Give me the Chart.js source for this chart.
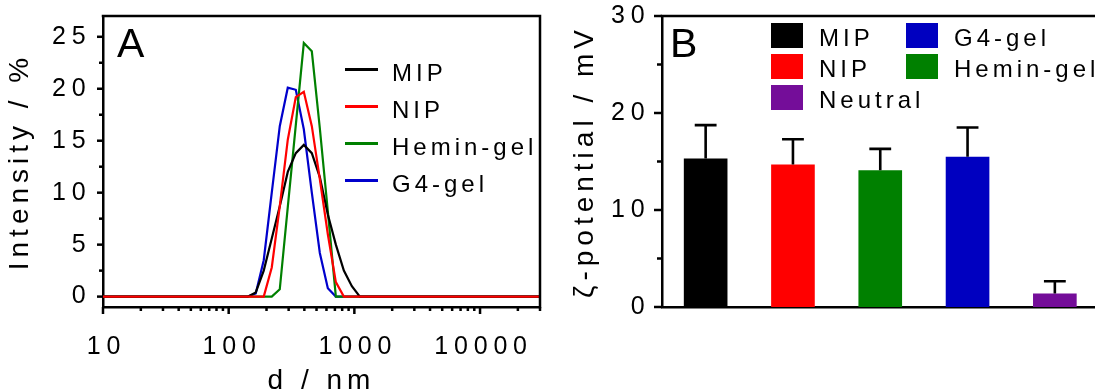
<!DOCTYPE html>
<html>
<head>
<meta charset="utf-8">
<script src="https://cdn.jsdelivr.net/npm/chart.js@4.4.1/dist/chart.umd.min.js"></script>
<style>
    html, body { margin: 0; padding: 0; background: #fff; }
    body { width: 1095px; height: 389px; overflow: hidden; position: relative; font-family: 'Liberation Sans', Arial, sans-serif; color: #000; }
    .box { position: absolute; top: 0; height: 410px; }
    #boxA { left: 0; width: 548px; }
    #boxB { left: 550px; width: 550px; }
    .panel-label { position: absolute; font-size: 41px; line-height: 41px; }
    .legend-text { position: absolute; font-size: 24px; line-height: 24px; letter-spacing: 4px; white-space: nowrap; }
    .swatch-line { position: absolute; width: 33px; height: 3px; }
    .swatch-box { position: absolute; width: 32px; height: 25px; }
</style>
</head>
<body>
<div class="box" id="boxA"><canvas id="dls-chart"></canvas></div>
<div class="box" id="boxB"><canvas id="zeta-chart"></canvas></div>
<div class="panel-label" style="left:117px; top:23px;">A</div>
<div class="panel-label" style="left:670px; top:23px;">B</div>
<div id="legend-a"></div>
<div id="legend-b"></div>
<script>
// A：粒徑分布 (DLS)
const sizeNm = [10, 141.8, 164.2, 190.1, 220.2, 255.0, 295.3, 342.0, 396.1, 458.7, 531.2, 615.1, 712.4, 825.0, 955.4, 1106, 1281, 30000];
const mipIntensity = [0, 0, 0.4, 2.5, 5.6, 8.7, 12.0, 13.8, 14.6, 13.8, 11.5, 7.9, 5.0, 2.5, 1.0, 0, 0, 0];
const nipIntensity = [0, 0, 0, 0, 2.8, 8.7, 15.1, 19.2, 19.7, 16.4, 11.3, 6.0, 1.4, 0, 0, 0, 0, 0];
const heminIntensity = [0, 0, 0, 0, 0, 0.7, 8.6, 16.5, 24.4, 23.6, 16.2, 8.2, 0, 0, 0, 0, 0, 0];
const g4Intensity = [0, 0, 0.3, 3.5, 10.0, 16.4, 20.1, 19.9, 16.1, 10.0, 4.2, 0.8, 0, 0, 0, 0, 0, 0];
const dlsLabels = ['MIP', 'NIP', 'Hemin-gel', 'G4-gel'];
const dlsColors = ['#000000', '#ff0000', '#008000', '#0000cc'];
const dlsOrder = [1, 0, 1, 1]; // NIP 畫在最上層

const sizeMajorTicks = [10, 100, 1000, 10000];
const sizeMinorTicks = [20, 30, 40, 50, 60, 70, 80, 90, 200, 300, 400, 500, 600, 700, 800, 900,
    2000, 3000, 4000, 5000, 6000, 7000, 8000, 9000, 20000, 30000];
const intensityMajorTicks = [0, 5, 10, 15, 20, 25];
const intensityMinorTicks = [2.5, 7.5, 12.5, 17.5, 22.5];

// B：ζ 電位
const zetaLabels = ['MIP', 'NIP', 'Hemin-gel', 'G4-gel', 'Neutral'];
const zetaMean = [15.3, 14.7, 14.1, 15.5, 1.4];
const zetaSd = [3.45, 2.6, 2.2, 3.0, 1.25];
const zetaColors = ['#000000', '#ff0000', '#008000', '#0000c0', '#740d99'];
const zetaLegendOrder = ['MIP', 'NIP', 'Neutral', 'G4-gel', 'Hemin-gel'];
const zetaMajorTicks = [0, 10, 20, 30];
const zetaMinorTicks = [5, 15, 25];

Chart.defaults.font.family = "'Liberation Sans', Arial, sans-serif";
Chart.defaults.color = '#000';

// 合併主/次刻度
function buildTicks(major, minor) {
    return major.concat(minor)
        .sort((a, b) => a - b)
        .map(v => ({ value: v, major: major.includes(v) }));
}

// 固定軸寬/高，並取消標籤造成的額外內距
function fixSize(key, size) {
    return s => {
        s[key] = size;
        s.paddingTop = 0;
        s.paddingBottom = 0;
        s.paddingLeft = 0;
        s.paddingRight = 0;
    };
}

// 字距：標題先畫（資料之前），刻度標籤 z=1 在資料之後畫
const textSpacing = {
    id: 'textSpacing',
    beforeDraw(chart) {
        chart.ctx.letterSpacing = '5px';
    },
    afterDatasetsDraw(chart) {
        chart.ctx.letterSpacing = '5.8px';
    }
};

// 外側刻度線，主刻度較長
const tickMarks = {
    id: 'tickMarks',
    afterDraw(chart, args, opts) {
        const ctx = chart.ctx;
        ctx.save();
        ctx.strokeStyle = '#000';
        ctx.lineWidth = 2.5;
        ['x', 'y'].forEach(id => {
            const scale = chart.scales[id];
            const majorLen = opts[id + 'Major'];
            const minorLen = opts[id + 'Minor'];
            if (!majorLen) return;
            scale.ticks.forEach(t => {
                const p = scale.getPixelForValue(t.value);
                const len = t.major ? majorLen : minorLen;
                ctx.beginPath();
                if (scale.isHorizontal()) {
                    ctx.moveTo(p, scale.top);
                    ctx.lineTo(p, scale.top + len);
                } else {
                    ctx.moveTo(scale.right, p);
                    ctx.lineTo(scale.right - len, p);
                }
                ctx.stroke();
            });
        });
        ctx.restore();
    }
};

// 上框線（A 另有右框線）
const frame = {
    id: 'frame',
    afterDraw(chart, args, opts) {
        const { ctx, chartArea: a } = chart;
        ctx.save();
        ctx.strokeStyle = '#000';
        ctx.lineWidth = 2.5;
        ctx.lineCap = 'square';
        ctx.beginPath();
        ctx.moveTo(a.left, a.top);
        ctx.lineTo(a.right, a.top);
        if (opts.right) ctx.lineTo(a.right, a.bottom);
        ctx.stroke();
        ctx.restore();
    }
};

// 誤差線（只畫上半）
const errorBars = {
    id: 'errorBars',
    afterDatasetsDraw(chart) {
        const ctx = chart.ctx;
        const yScale = chart.scales.y;
        const meta = chart.getDatasetMeta(0);
        ctx.save();
        ctx.strokeStyle = '#000';
        ctx.lineWidth = 2.6;
        meta.data.forEach((bar, i) => {
            const top = yScale.getPixelForValue(zetaMean[i] + zetaSd[i]);
            const half = bar.width / 4;
            ctx.beginPath();
            ctx.moveTo(bar.x, bar.y);
            ctx.lineTo(bar.x, top);
            ctx.moveTo(bar.x - half, top);
            ctx.lineTo(bar.x + half, top);
            ctx.stroke();
        });
        ctx.restore();
    }
};

const axisBorder = { display: true, color: '#000', width: 2.5 };
const noGrid = { display: false, drawTicks: false };
const titleFont = { size: 28 };
const tickFont = { size: 25 };

// 圖 A
new Chart(document.getElementById('dls-chart'), {
    type: 'line',
    data: {
        datasets: [mipIntensity, nipIntensity, heminIntensity, g4Intensity].map((values, i) => ({
            label: dlsLabels[i],
            data: sizeNm.map((d, j) => ({ x: d, y: values[j] })),
            borderColor: dlsColors[i],
            borderWidth: 2.2,
            pointRadius: 0,
            tension: 0,
            fill: false,
            order: dlsOrder[i]
        }))
    },
    options: {
        responsive: true,
        maintainAspectRatio: false,
        animation: false,
        layout: { padding: { left: 0, top: 16, right: 8, bottom: 0 } },
        plugins: {
            legend: { display: false },
            tooltip: { enabled: false },
            frame: { right: true },
            tickMarks: { xMajor: 7, xMinor: 4, yMajor: 6, yMinor: 4 }
        },
        scales: {
            x: {
                type: 'logarithmic',
                min: 10,
                max: 30000,
                afterBuildTicks: s => { s.ticks = buildTicks(sizeMajorTicks, sizeMinorTicks); },
                afterFit: fixSize('height', 103),
                grid: noGrid,
                border: axisBorder,
                ticks: {
                    z: 1,
                    autoSkip: false,
                    maxRotation: 0,
                    padding: 25,
                    labelOffset: 3.5,
                    font: tickFont,
                    callback: v => sizeMajorTicks.includes(v) ? String(v) : ''
                },
                title: { display: true, text: 'd / nm', font: titleFont, padding: { top: 0, bottom: 11.9 } }
            },
            y: {
                min: -1,
                max: 27,
                afterBuildTicks: s => { s.ticks = buildTicks(intensityMajorTicks, intensityMinorTicks); },
                afterFit: fixSize('width', 103),
                grid: noGrid,
                border: axisBorder,
                ticks: {
                    z: 1,
                    autoSkip: false,
                    padding: 11.5,
                    font: tickFont,
                    callback: v => intensityMajorTicks.includes(v) ? String(v) : ''
                },
                title: { display: true, text: 'Intensity / %', font: titleFont, padding: { top: 3.8, bottom: 0 } }
            }
        }
    },
    plugins: [textSpacing, tickMarks, frame]
});

// 圖 B
new Chart(document.getElementById('zeta-chart'), {
    type: 'bar',
    data: {
        labels: zetaLabels,
        datasets: [{
            label: 'ζ-potential',
            data: zetaMean,
            backgroundColor: zetaColors,
            borderWidth: 0,
            barPercentage: 0.5,
            categoryPercentage: 1.0
        }]
    },
    options: {
        responsive: true,
        maintainAspectRatio: false,
        animation: false,
        layout: { padding: { left: 0, top: 16, right: 1.5, bottom: 0 } },
        plugins: {
            legend: { display: false },
            tooltip: { enabled: false },
            frame: { right: false },
            tickMarks: { yMajor: 8, yMinor: 5 }
        },
        scales: {
            x: {
                afterFit: fixSize('height', 103),
                grid: noGrid,
                border: axisBorder,
                ticks: { display: false }
            },
            y: {
                min: 0,
                max: 30,
                afterBuildTicks: s => { s.ticks = buildTicks(zetaMajorTicks, zetaMinorTicks); },
                afterFit: fixSize('width', 112),
                grid: noGrid,
                border: axisBorder,
                ticks: {
                    z: 1,
                    autoSkip: false,
                    padding: 11.5,
                    font: tickFont,
                    callback: v => zetaMajorTicks.includes(v) ? String(v) : ''
                },
                title: { display: true, text: 'ζ-potential / mV', font: titleFont, padding: { top: 18.8, bottom: 0 } }
            }
        }
    },
    plugins: [textSpacing, tickMarks, frame, errorBars]
});

// 圖例（HTML）
const legendA = document.getElementById('legend-a');
dlsLabels.forEach((label, i) => {
    const line = document.createElement('div');
    line.className = 'swatch-line';
    line.style.left = '345px';
    line.style.top = (67.5 + 37 * i) + 'px';
    line.style.background = dlsColors[i];
    const text = document.createElement('div');
    text.className = 'legend-text';
    text.style.left = '392px';
    text.style.top = (61 + 37 * i) + 'px';
    text.textContent = label;
    legendA.appendChild(line);
    legendA.appendChild(text);
});

const legendB = document.getElementById('legend-b');
zetaLegendOrder.forEach((label, k) => {
    const col = k < 3 ? 0 : 1;
    const row = k < 3 ? k : k - 3;
    const box = document.createElement('div');
    box.className = 'swatch-box';
    box.style.left = (col ? 906 : 771) + 'px';
    box.style.top = (23 + 31 * row) + 'px';
    box.style.background = zetaColors[zetaLabels.indexOf(label)];
    const text = document.createElement('div');
    text.className = 'legend-text';
    text.style.left = (col ? 954 : 819) + 'px';
    text.style.top = (26 + 31 * row) + 'px';
    text.textContent = label;
    legendB.appendChild(box);
    legendB.appendChild(text);
});
</script>
</body>
</html>
